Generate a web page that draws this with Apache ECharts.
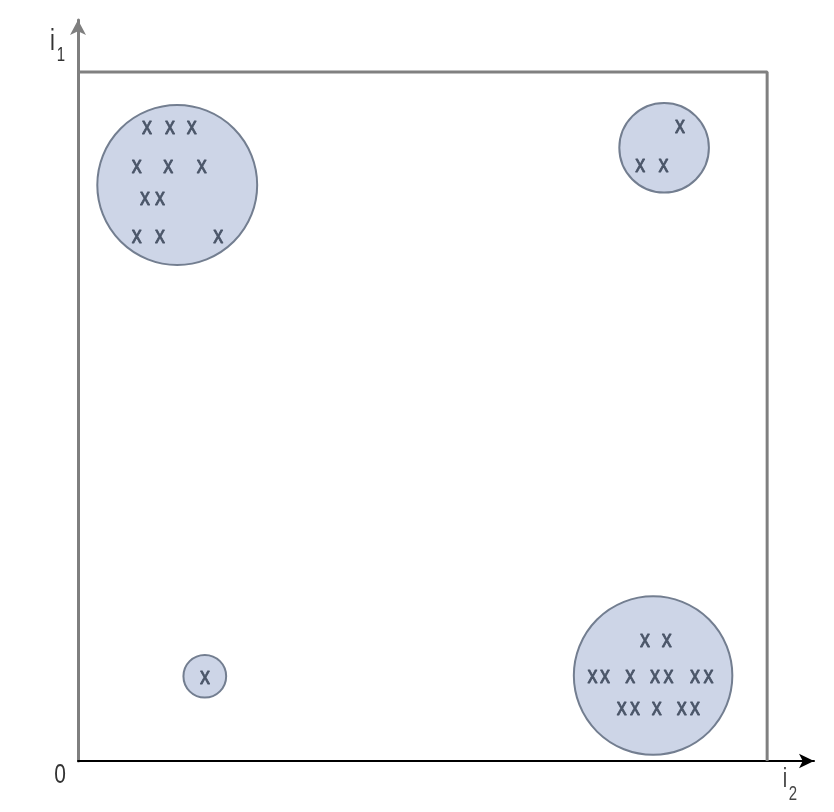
<!DOCTYPE html>
<html>
<head>
<meta charset="utf-8">
<script src="https://cdn.jsdelivr.net/npm/echarts@6/dist/echarts.min.js"></script>
<style>
html,body{margin:0;padding:0;background:#fff;}
#chart{width:834px;height:812px;}
</style>
</head>
<body>
<div id="chart"></div>
<script>
// Data (units: the square box spans 0..10 on both axes)
const boxCorners = [[0, 10], [10, 10], [10, 0]];
// clusters: [centerX, centerY, radius]
const clusterCircles = [
  [1.44, 8.36, 1.16],
  [8.505, 8.90, 0.65],
  [8.345, 1.24, 1.15],
  [1.84, 1.23, 0.31]
];
const topLeftMarks = [
  [1.00, 9.19], [1.335, 9.19], [1.65, 9.19],
  [0.852, 8.625], [1.31, 8.625], [1.795, 8.625],
  [0.972, 8.17], [1.19, 8.17],
  [0.852, 7.61], [1.19, 7.61], [2.036, 7.61]
];
const topRightMarks = [
  [8.737, 9.206],
  [8.157, 8.65], [8.495, 8.65]
];
const bottomRightMarks = [
  [8.229, 1.756], [8.544, 1.756],
  [7.465, 1.224], [7.649, 1.224], [8.012, 1.224], [8.374, 1.224], [8.567, 1.224], [8.955, 1.224], [9.148, 1.224],
  [7.891, 0.765], [8.084, 0.765], [8.399, 0.765], [8.762, 0.765], [8.955, 0.765]
];
const bottomLeftMarks = [[1.843, 1.219]];
const axisNames = { y: ['i', '1'], x: ['i', '2'], origin: '0' };

const allMarks = [].concat(topLeftMarks, topRightMarks, bottomRightMarks, bottomLeftMarks);

const chart = echarts.init(document.getElementById('chart'), null, { renderer: 'canvas' });
const labelFont = 'Liberation Sans, Arial, sans-serif';

function txt(text, x, y, size, color) {
  return {
    type: 'text', x: x, y: y, scaleY: 1.35, z: 100,
    style: { text: text, fill: color, font: size + 'px ' + labelFont, align: 'center', verticalAlign: 'middle' }
  };
}

chart.setOption({
  animation: false,
  backgroundColor: '#ffffff',
  grid: { left: 78, right: 20, top: 20, bottom: 51 },
  xAxis: {
    type: 'value', min: 0, max: 10.68,
    axisLine: { show: true, onZero: true, lineStyle: { color: '#000000', width: 2 }, symbol: ['none', 'arrow'], symbolSize: [11, 15] },
    axisTick: { show: false }, axisLabel: { show: false }, splitLine: { show: false }
  },
  yAxis: {
    type: 'value', min: 0, max: 10.755,
    axisLine: { show: true, onZero: true, lineStyle: { color: '#7f7f7f', width: 3 }, symbol: ['none', 'arrow'], symbolSize: [12, 15] },
    axisTick: { show: false }, axisLabel: { show: false }, splitLine: { show: false }
  },
  graphic: [
    txt(axisNames.origin, 60, 775, 21, '#333333'),
    txt(axisNames.y[0], 52.5, 41.5, 22, '#333333'),
    txt(axisNames.y[1], 61, 55.5, 15, '#333333'),
    txt(axisNames.x[0], 785, 780, 20, '#444444'),
    txt(axisNames.x[1], 793, 794.5, 15, '#444444')
  ],
  series: [
    {
      type: 'line', data: boxCorners, symbol: 'none', silent: true,
      lineStyle: { color: '#808080', width: 3 }, z: 1
    },
    {
      type: 'custom', data: clusterCircles, clip: false, z: 2,
      encode: { x: 0, y: 1 },
      renderItem: function (params, api) {
        const c = api.coord([api.value(0), api.value(1)]);
        const s = api.size([api.value(2), api.value(2)]);
        return {
          type: 'circle',
          shape: { cx: c[0], cy: c[1], r: s[0] },
          style: { fill: '#cdd5e7', stroke: '#737e90', lineWidth: 2 }
        };
      }
    },
    {
      type: 'custom', data: allMarks, clip: false, z: 3,
      encode: { x: 0, y: 1 },
      renderItem: function (params, api) {
        const c = api.coord([api.value(0), api.value(1)]);
        return {
          type: 'text', x: c[0], y: c[1], scaleY: 1.2,
          style: { text: 'x', fill: '#4a5568', stroke: '#4a5568', lineWidth: 0.7, font: '20px ' + labelFont, align: 'center', verticalAlign: 'middle' }
        };
      }
    }
  ]
});
</script>
</body>
</html>
